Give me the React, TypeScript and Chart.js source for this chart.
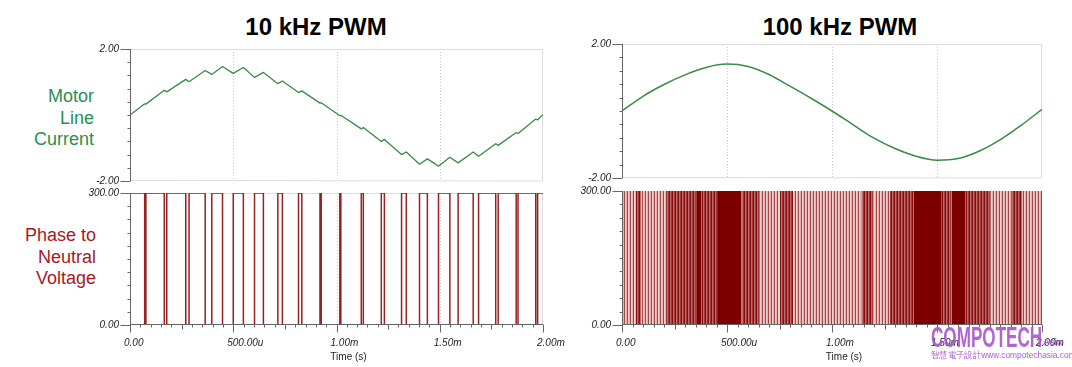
import React, { useEffect, useRef } from 'react';
import { Chart, registerables } from 'chart.js';

Chart.register(...registerables);

// ---------------- data ----------------
const xTickValues = [0, 0.5, 1, 1.5, 2];
const xTickLabels = ['0.00', '500.00u', '1.00m', '1.50m', '2.00m'];
const currentTickValues = [-2, 2];
const currentTickLabels = ['-2.00', '2.00'];
const voltageTickValues = [0, 300];
const voltageTickLabels = ['0.00', '300.00'];
const timeAxisTitle = 'Time (s)';

// 10 kHz PWM: switching edge times (ms); the output starts high (300 V)
const pwm10EdgesMs = [
  0.071, 0.077, 0.166, 0.178, 0.27, 0.286, 0.364, 0.396, 0.448, 0.5,
  0.549, 0.603, 0.646, 0.716, 0.738, 0.816, 0.832, 0.92, 0.926, 1.016,
  1.021, 1.12, 1.13, 1.217, 1.232, 1.315, 1.338, 1.402, 1.44, 1.494,
  1.549, 1.589, 1.662, 1.688, 1.771, 1.783, 1.87, 1.879, 1.965, 1.974,
];
// 10 kHz motor current (A) at t = 0, at each edge above, and at t = 2 ms
const current10A = [
  0.0,
  0.34, 0.33, 0.75, 0.7, 1.08, 1.01, 1.35, 1.23, 1.47, 1.26,
  1.44, 1.14, 1.29, 0.95, 1.03, 0.68, 0.73, 0.36, 0.37, -0.02,
  -0.01, -0.42, -0.38, -0.8, -0.74, -1.2, -1.12, -1.49, -1.33, -1.55,
  -1.28, -1.45, -1.12, -1.25, -0.87, -0.92, -0.53, -0.56, -0.12, -0.15,
  0.02,
];

// 100 kHz motor current, sampled every 0.1 ms
const current100TimesMs = [0, 0.1, 0.2, 0.3, 0.4, 0.5, 0.6, 0.7, 0.8, 0.9, 1.0, 1.1, 1.2, 1.3, 1.4, 1.5, 1.6, 1.7, 1.8, 1.9, 2.0];
const current100A = [0.0, 0.44, 0.79, 1.08, 1.3, 1.4, 1.33, 1.09, 0.74, 0.38, 0.0, -0.41, -0.81, -1.12, -1.35, -1.47, -1.42, -1.2, -0.86, -0.43, 0.05];

// 100 kHz PWM voltage (0/300 V): too dense to resolve, read as bands of pulse density
const pwm100BandStartMs = [0, 0.064, 0.091, 0.21, 0.353, 0.377, 0.457, 0.568, 0.656, 0.751, 0.815, 1.141, 1.197, 1.276, 1.387, 1.523, 1.57, 1.634, 1.753, 1.857, 1.905];
const pwm100BandShade = ['L', 'M', 'L', 'M', 'D', 'M', 'D', 'M', 'L', 'M', 'L', 'M', 'L', 'M', 'D', 'M', 'D', 'M', 'L', 'M', 'L'];
const pwm100Level = 300;

// ---------------- layout / style ----------------
const FONT = 'Arial, "Liberation Sans", Helvetica, sans-serif';
const GREEN = '#3a8b45';
const RED = '#982222';
const PAD_L = 112, PAD_T = 24, PAD_R = 50;

type Area = { l: number; r: number; t: number; b: number };

const framePlugin = {
  id: 'frame',
  beforeDatasetsDraw(chart: any, _args: any, opts: any) {
    const { ctx, chartArea: a, scales } = chart;
    const x = scales.x;
    ctx.save();
    ctx.lineWidth = 1;
    ctx.strokeStyle = '#c9c9c9';
    ctx.setLineDash([1, 2]);
    for (const v of xTickValues.slice(1, -1)) {
      const px = Math.round(x.getPixelForValue(v)) + 0.5;
      ctx.beginPath(); ctx.moveTo(px, a.top); ctx.lineTo(px, a.bottom); ctx.stroke();
    }
    ctx.setLineDash([]);
    ctx.strokeStyle = '#dcdcdc';
    ctx.beginPath();
    ctx.moveTo(a.left, a.top + 0.5); ctx.lineTo(a.right - 0.5, a.top + 0.5); ctx.lineTo(a.right - 0.5, a.bottom);
    if (!opts.bottom) { ctx.lineTo(a.left, a.bottom - 0.5); }
    ctx.stroke();
    ctx.restore();
  },
  afterDatasetsDraw(chart: any, _args: any, opts: any) {
    const { ctx, chartArea: a, scales } = chart;
    const y = scales.y, x = scales.x;
    ctx.save();
    ctx.lineWidth = 1;
    ctx.strokeStyle = '#666';
    const ax = Math.round(a.left) + 0.5;
    ctx.beginPath(); ctx.moveTo(ax, a.top); ctx.lineTo(ax, a.bottom); ctx.stroke();
    const ymin = y.min, ymax = y.max;
    for (const t of y.ticks) {
      const v = t.value;
      const py = Math.round(y.getPixelForValue(v)) + 0.5;
      let len = 3;
      if (Math.abs(v - ymin) < 1e-6 || Math.abs(v - ymax) < 1e-6) len = 10;
      ctx.beginPath(); ctx.moveTo(ax - len, py); ctx.lineTo(ax, py); ctx.stroke();
    }
    if (opts.bottom) {
      const ay = Math.round(a.bottom) - 0.5;
      ctx.beginPath(); ctx.moveTo(a.left, ay); ctx.lineTo(a.right, ay); ctx.stroke();
      for (const t of x.ticks) {
        const v = t.value;
        const px = Math.round(x.getPixelForValue(v)) + 0.5;
        let len = 3;
        if (Math.abs(v / 0.5 - Math.round(v / 0.5)) < 1e-6) len = 8;
        else if (Math.abs(v / 0.25 - Math.round(v / 0.25)) < 1e-6) len = 5;
        ctx.beginPath(); ctx.moveTo(px, ay); ctx.lineTo(px, ay + len); ctx.stroke();
      }
    }
    ctx.restore();
  },
};

function labelFor(values: number[], labels: string[], v: number) {
  for (let i = 0; i < values.length; i++) if (Math.abs(values[i] - v) < 1e-6) return labels[i];
  return '';
}

function padBottom(bottom: boolean) { return bottom ? 42 : 24; }

function makeOptions(bottom: boolean, yMin: number, yMax: number, yStep: number, yVals: number[], yLabs: string[]) {
  const xH = bottom ? 30 : 0;
  const padB = padBottom(bottom);
  const tickFont = { family: FONT, size: 10, style: 'italic' as const };
  return {
    responsive: false,
    animation: false as const,
    devicePixelRatio: 1,
    events: [] as any[],
    layout: { padding: { left: 0, top: PAD_T, right: PAD_R, bottom: padB - xH } },
    plugins: { legend: { display: false }, tooltip: { enabled: false }, frame: { bottom } },
    scales: {
      x: {
        type: 'linear' as const, min: 0, max: 2, display: bottom,
        grid: { display: false, drawTicks: false }, border: { display: false },
        ticks: {
          stepSize: 0.05, autoSkip: false, maxRotation: 0, minRotation: 0, maxTicksLimit: 100,
          align: 'start' as const, labelOffset: -6, padding: 12, color: '#222', font: tickFont,
          callback: (v: any) => labelFor(xTickValues, xTickLabels, Number(v)),
        },
        afterFit: (s: any) => { s.height = xH; },
      },
      y: {
        type: 'linear' as const, min: yMin, max: yMax,
        grid: { display: false, drawTicks: false }, border: { display: false },
        ticks: {
          stepSize: yStep, autoSkip: false, padding: 11, color: '#222', font: tickFont,
          callback: (v: any) => labelFor(yVals, yLabs, Number(v)),
        },
        afterFit: (s: any) => { s.width = PAD_L; },
      },
    },
  };
}

function stripe(ctx: CanvasRenderingContext2D, cols: string[]) {
  const c = document.createElement('canvas');
  c.width = cols.length; c.height = 1;
  const g = c.getContext('2d')!;
  cols.forEach((col, i) => { g.fillStyle = col; g.fillRect(i, 0, 1, 1); });
  return ctx.createPattern(c, 'repeat')!;
}

function Panel({ area, bottom, build }: { area: Area; bottom: boolean; build: (ctx: CanvasRenderingContext2D) => any }) {
  const ref = useRef<HTMLCanvasElement>(null);
  const padB = padBottom(bottom);
  const w = area.r - area.l + PAD_L + PAD_R;
  const h = area.b - area.t + PAD_T + padB;
  useEffect(() => {
    const canvas = ref.current!;
    const ctx = canvas.getContext('2d')!;
    const chart = new Chart(canvas, build(ctx));
    return () => chart.destroy();
  }, []);
  return (
    <canvas
      ref={ref}
      width={w}
      height={h}
      style={{ position: 'absolute', left: area.l - PAD_L, top: area.t - PAD_T, width: w, height: h }}
    />
  );
}

function pwm10Points() {
  const pts: { x: number; y: number }[] = [];
  let level = 300;
  pts.push({ x: 0, y: level });
  for (const t of pwm10EdgesMs) {
    pts.push({ x: t, y: level });
    level = level === 300 ? 0 : 300;
    pts.push({ x: t, y: level });
  }
  pts.push({ x: 2, y: level });
  return pts;
}

function current10Points() {
  const times = [0, ...pwm10EdgesMs, 2];
  return times.map((t, i) => ({ x: t, y: current10A[i] }));
}

const lineBase = { pointRadius: 0, borderJoinStyle: 'round' as const, fill: false };

const leftTop = (_ctx: CanvasRenderingContext2D) => ({
  type: 'line',
  data: { datasets: [{ ...lineBase, data: current10Points(), borderColor: GREEN, borderWidth: 1.3, tension: 0 }] },
  options: makeOptions(false, -2, 2, 0.4, currentTickValues, currentTickLabels),
  plugins: [framePlugin],
});

const leftBottom = (_ctx: CanvasRenderingContext2D) => ({
  type: 'line',
  data: { datasets: [{ ...lineBase, data: pwm10Points(), borderColor: RED, borderWidth: 1.5, tension: 0 }] },
  options: makeOptions(true, 0, 300, 30, voltageTickValues, voltageTickLabels),
  plugins: [framePlugin],
});

const rightTop = (_ctx: CanvasRenderingContext2D) => ({
  type: 'line',
  data: {
    datasets: [{
      ...lineBase,
      data: current100TimesMs.map((t, i) => ({ x: t, y: current100A[i] })),
      borderColor: GREEN, borderWidth: 1.5, cubicInterpolationMode: 'monotone',
    }],
  },
  options: makeOptions(false, -2, 2, 0.4, currentTickValues, currentTickLabels),
  plugins: [framePlugin],
});

const rightBottom = (ctx: CanvasRenderingContext2D) => {
  const shades: Record<string, any> = {
    L: stripe(ctx, ['#a94444', '#eed3d3', '#e0b2b2']),
    M: stripe(ctx, ['#880c0c', '#bd6c6c', '#a03a3a']),
    D: '#7c0000',
  };
  const datasets = pwm100BandStartMs.map((s, i) => {
    const e = i + 1 < pwm100BandStartMs.length ? pwm100BandStartMs[i + 1] : 2;
    return {
      data: [{ x: s, y: pwm100Level }, { x: e, y: pwm100Level }],
      pointRadius: 0, borderWidth: 0, borderColor: 'rgba(0,0,0,0)',
      backgroundColor: shades[pwm100BandShade[i]], fill: 'start',
    };
  });
  return {
    type: 'line',
    data: { datasets },
    options: makeOptions(true, 0, 300, 30, voltageTickValues, voltageTickLabels),
    plugins: [framePlugin],
  };
};

const LEFT_TOP: Area = { l: 130, r: 543, t: 49, b: 181 };
const LEFT_BOTTOM: Area = { l: 130, r: 543, t: 193, b: 325 };
const RIGHT_TOP: Area = { l: 622, r: 1042, t: 44, b: 178 };
const RIGHT_BOTTOM: Area = { l: 622, r: 1042, t: 191, b: 325 };

const abs = (o: React.CSSProperties): React.CSSProperties => ({ position: 'absolute', whiteSpace: 'nowrap', ...o });

export default function App() {
  return (
    <div style={{ position: 'fixed', left: 0, top: 0, width: 1072, height: 367, background: '#fff', overflow: 'hidden', fontFamily: FONT }}>
      <div style={abs({ left: 216, width: 200, top: 12, textAlign: 'center', fontSize: 24, fontWeight: 'bold', lineHeight: '30px', color: '#000' })}>10 kHz PWM</div>
      <div style={abs({ left: 740, width: 200, top: 12, textAlign: 'center', fontSize: 24, fontWeight: 'bold', lineHeight: '30px', color: '#000' })}>100 kHz PWM</div>

      <div style={abs({ left: 0, width: 94, top: 86, textAlign: 'right', fontSize: 18, lineHeight: '21.7px', color: '#2a8f4f' })}>
        Motor<br />Line<br />Current
      </div>
      <div style={abs({ left: 0, width: 96, top: 225, textAlign: 'right', fontSize: 18, lineHeight: '21.5px', color: '#a8191e' })}>
        Phase to<br />Neutral<br />Voltage
      </div>

      <Panel area={LEFT_TOP} bottom={false} build={leftTop} />
      <Panel area={LEFT_BOTTOM} bottom={true} build={leftBottom} />
      <Panel area={RIGHT_TOP} bottom={false} build={rightTop} />
      <Panel area={RIGHT_BOTTOM} bottom={true} build={rightBottom} />

      <div style={abs({ left: 298.5, width: 100, top: 351, textAlign: 'center', fontSize: 10, lineHeight: '12px', color: '#222' })}>{timeAxisTitle}</div>
      <div style={abs({ left: 794, width: 100, top: 351, textAlign: 'center', fontSize: 10, lineHeight: '12px', color: '#222' })}>{timeAxisTitle}</div>

      <div style={abs({ left: 931, top: 323, fontSize: 29, fontWeight: 'bold', lineHeight: '28px', color: 'rgba(168,84,204,0.9)', transform: 'scaleX(0.59)', transformOrigin: 'left top' })}>COMPOTECH</div>
      <div style={abs({ left: 1043, top: 337, fontSize: 9, fontWeight: 'bold', lineHeight: '10px', color: 'rgba(168,84,204,0.9)' })}>Asia</div>
      <div style={abs({ left: 931, top: 350, fontSize: 9, lineHeight: '11px', color: 'rgba(168,84,204,0.95)', transform: 'scaleX(0.93)', transformOrigin: 'left top' })}>智慧電子設計www.compotechasia.com</div>
    </div>
  );
}
